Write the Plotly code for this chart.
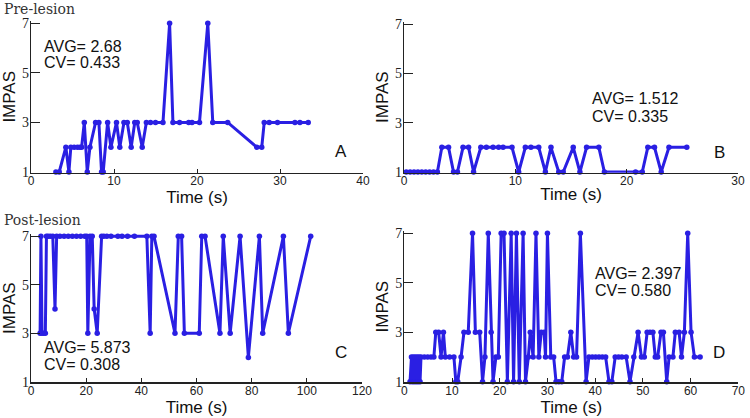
import plotly.graph_objects as go

# ---------------- data ----------------
A_time = [3.0, 3.4, 4.2, 4.57, 4.8, 5.2, 5.6, 5.9, 6.1, 6.42, 6.78, 7.1, 7.78, 8.18, 8.5, 8.7,
          9.23, 9.63, 10.3, 10.7, 11.2, 11.6, 12.07, 12.5, 12.8, 13.4, 13.9, 14.4, 15.0, 15.9,
          16.7, 17.1, 17.9, 19.0, 19.4, 20.3, 21.3, 21.9, 23.7, 27.2, 27.8, 28.1, 28.7, 29.7,
          31.8, 32.4, 33.4]
A_impas = [1, 1, 2, 1, 2, 2, 2, 2, 2, 3, 1, 2, 3, 3, 1, 1, 3, 2, 3, 2, 3, 3, 2, 3, 3, 2, 3, 3,
           3, 3, 7, 3, 3, 3, 3, 3, 7, 3, 3, 2, 2, 3, 3, 3, 3, 3, 3]

B_time = [0.2, 0.55, 0.9, 1.25, 1.6, 1.95, 2.3, 2.65, 3.0, 3.4, 4.0, 4.45, 4.8, 5.3, 5.8, 6.25,
          6.9, 7.4, 8.0, 8.5, 8.9, 9.7, 10.3, 10.9, 11.4, 12.1, 12.7, 13.2, 13.9, 14.3, 15.2,
          15.8, 16.4, 17.5, 18.0, 20.8, 21.4, 21.9, 22.5, 23.1, 23.8, 25.4]
B_impas = [1, 1, 1, 1, 1, 1, 1, 1, 1, 2, 2, 1, 1, 2, 2, 1, 2, 2, 2, 2, 2, 2, 1, 2, 2, 2, 1, 2,
           1, 1, 2, 1, 2, 2, 1, 1, 1, 2, 2, 1, 2, 2]

C_time = [3.3, 3.6, 4.0, 4.6, 5.2, 5.6, 6.2, 7.0, 7.9, 8.7, 9.3, 10.5, 12.0, 13.5, 15.0, 16.5,
          18.0, 19.5, 20.2, 20.6, 21.4, 22.2, 22.9, 24.0, 25.6, 26.4, 27.5, 29.0, 31.5, 33.0,
          35.0, 37.5, 42.0, 43.2, 43.8, 44.6, 52.2, 53.4, 54.6, 55.6, 61.0, 61.9, 63.1, 68.5,
          69.7, 72.2, 75.8, 78.8, 82.8, 84.0, 91.5, 93.3, 101.4]
C_impas = [3, 7, 3, 3, 3, 7, 7, 7, 7, 4, 7, 7, 7, 7, 7, 7, 7, 7, 7, 3, 7, 7, 4, 3, 7, 7, 7, 7,
           7, 7, 7, 7, 7, 3, 7, 7, 3, 7, 7, 3, 3, 7, 7, 3, 7, 3, 7, 2, 7, 3, 7, 3, 7]

D_time = [1.2, 1.5, 1.7, 1.9, 2.1, 2.3, 2.5, 2.7, 2.9, 3.1, 3.3, 3.5, 4.2, 4.9, 5.6, 6.2, 6.6,
          7.2, 7.7, 8.2, 8.6, 9.5, 10.4, 10.8, 11.2, 11.9, 12.5, 13.4, 14.3, 14.9, 15.8, 16.4,
          16.9, 17.6, 18.2, 18.6, 19.2, 19.7, 20.3, 20.9, 21.6, 22.4, 22.9, 23.5, 24.1, 24.9,
          25.4, 26.0, 26.4, 27.0, 27.6, 28.2, 28.7, 29.3, 29.6, 30.0, 30.7, 31.3, 31.8, 32.4,
          33.0, 33.6, 34.2, 34.9, 35.5, 36.1, 36.9, 38.1, 38.7, 39.4, 40.1, 40.8, 41.5, 42.2,
          42.9, 43.5, 44.2, 44.9, 45.6, 46.5, 47.3, 48.1, 49.0, 49.7, 50.3, 50.9, 51.5, 52.1,
          52.6, 53.1, 53.8, 54.3, 55.0, 55.5, 56.3, 56.8, 57.6, 58.1, 58.7, 59.4, 60.1, 60.8, 62.0]
D_impas = [1, 2, 1, 2, 1, 2, 1, 2, 1, 2, 1, 2, 2, 2, 2, 2, 3, 3, 2, 3, 2, 2, 2, 1, 1, 2, 3, 3,
           7, 3, 3, 1, 2, 7, 3, 1, 2, 2, 7, 7, 1, 7, 1, 7, 1, 7, 1, 2, 3, 2, 7, 2, 3, 3, 2, 7,
           2, 2, 1, 1, 1, 2, 2, 3, 2, 2, 7, 1, 2, 2, 2, 2, 2, 2, 1, 1, 2, 2, 2, 2, 1, 2, 3, 2,
           2, 3, 3, 3, 2, 2, 3, 3, 1, 2, 2, 3, 3, 2, 3, 7, 3, 2, 2]

panel_letters = ["A", "B", "C", "D"]
avg_labels = ["AVG= 2.68", "AVG= 1.512", "AVG= 5.873", "AVG= 2.397"]
cv_labels = ["CV= 0.433", "CV= 0.335", "CV= 0.308", "CV= 0.580"]
x_max = [40, 30, 120, 70]
x_step = [10, 10, 20, 10]
y_ticks = [1, 3, 5, 7]
row_titles = ["Pre-lesion", "Post-lesion"]

assert len(A_time) == len(A_impas)
assert len(B_time) == len(B_impas)
assert len(C_time) == len(C_impas)
assert len(D_time) == len(D_impas)

series = [(A_time, A_impas), (B_time, B_impas), (C_time, C_impas), (D_time, D_impas)]

# ---------------- layout geometry (pixels) ----------------
W, H = 750, 418
# x pixel of value 0, x pixel of value xmax, y pixel of value 1, y pixel of value 7
geom = [
    (31, 363, 172, 23.3),
    (404, 738, 172, 24),
    (31, 362, 381.7, 236.3),
    (404.3, 738.3, 381.7, 233.3),
]
Y_RANGE = [0.97, 7.1]

# text positions (pixels): avg (x_left, y_center), cv y_center, letter (x_center, y_center)
txt = [
    (42, 46, 63, 341, 151),
    (590, 99, 116, 719, 152),
    (42, 347.5, 364.5, 341, 352),
    (593, 273, 290, 719, 352),
]

LINE_COLOR = "#2A1FE3"
SANS = "Liberation Sans, Arial, sans-serif"
SERIF = "Liberation Serif, Times New Roman, serif"

fig = go.Figure()
layout = dict(
    width=W, height=H,
    margin=dict(l=0, r=0, t=0, b=0),
    paper_bgcolor="white", plot_bgcolor="white",
    showlegend=False,
    annotations=[],
)

def px_to_paper_x(p):
    return p / W

def px_to_paper_y(p):
    return (H - p) / H

for i, ((t, v), (x0p, x1p, y1p, y7p), xm, xs) in enumerate(zip(series, geom, x_max, x_step)):
    n = "" if i == 0 else str(i + 1)
    xa, ya = "x" + n, "y" + n
    fig.add_trace(go.Scatter(
        x=t, y=v, mode="lines+markers", xaxis=xa, yaxis=ya,
        line=dict(color=LINE_COLOR, width=3),
        marker=dict(color=LINE_COLOR, size=5.5),
        cliponaxis=False,
    ))
    sy = (y1p - y7p) / 6.0
    pix = lambda val: y1p - (val - 1) * sy
    ydom = [px_to_paper_y(pix(Y_RANGE[0])), px_to_paper_y(pix(Y_RANGE[1]))]
    xdom = [px_to_paper_x(x0p), px_to_paper_x(x1p)]
    layout["xaxis" + n] = dict(
        domain=xdom, range=[0, xm], anchor=ya,
        tickmode="array", tickvals=list(range(0, xm + 1, xs)),
        ticks="inside", ticklen=4, tickwidth=1, tickcolor="#222",
        showline=True, linecolor="#222", linewidth=1.3,
        showgrid=False, zeroline=False,
        tickfont=dict(family=SANS, size=12, color="#222"),
        ticklabelstandoff=-3,
        title=dict(text="Time (s)", font=dict(family=SANS, size=17, color="#111"), standoff=0),
        automargin=False, fixedrange=True,
    )
    layout["yaxis" + n] = dict(
        domain=ydom, range=Y_RANGE, anchor=xa,
        tickmode="array", tickvals=y_ticks,
        ticks="inside", ticklen=9, tickwidth=1, tickcolor="#222",
        showline=True, linecolor="#222", linewidth=1.3,
        showgrid=False, zeroline=False,
        tickfont=dict(family=SERIF, size=14, color="#222"),
        ticklabelstandoff=-2,
        title=dict(text="IMPAS", font=dict(family=SANS, size=17, color="#111"), standoff=2),
        automargin=False, fixedrange=True,
    )
    ax, ay_avg, ay_cv, lx, ly = txt[i]
    layout["annotations"] += [
        dict(text=avg_labels[i], x=px_to_paper_x(ax), y=px_to_paper_y(ay_avg), xref="paper", yref="paper",
             xanchor="left", yanchor="middle", showarrow=False,
             font=dict(family=SANS, size=16, color="#111")),
        dict(text=cv_labels[i], x=px_to_paper_x(ax), y=px_to_paper_y(ay_cv), xref="paper", yref="paper",
             xanchor="left", yanchor="middle", showarrow=False,
             font=dict(family=SANS, size=16, color="#111")),
        dict(text=panel_letters[i], x=px_to_paper_x(lx), y=px_to_paper_y(ly), xref="paper", yref="paper",
             xanchor="center", yanchor="middle", showarrow=False,
             font=dict(family=SANS, size=17, color="#111")),
    ]

for title, yc in zip(row_titles, [9, 220]):
    layout["annotations"].append(
        dict(text=title, x=px_to_paper_x(2), y=px_to_paper_y(yc), xref="paper", yref="paper",
             xanchor="left", yanchor="middle", showarrow=False,
             font=dict(family="DejaVu Serif, serif", size=14, color="#333")))

fig.update_layout(**layout)
fig.write_html("out.html",
               config={"displayModeBar": False, "staticPlot": True},
               post_script="document.body.style.margin='0';document.body.style.padding='0';")
